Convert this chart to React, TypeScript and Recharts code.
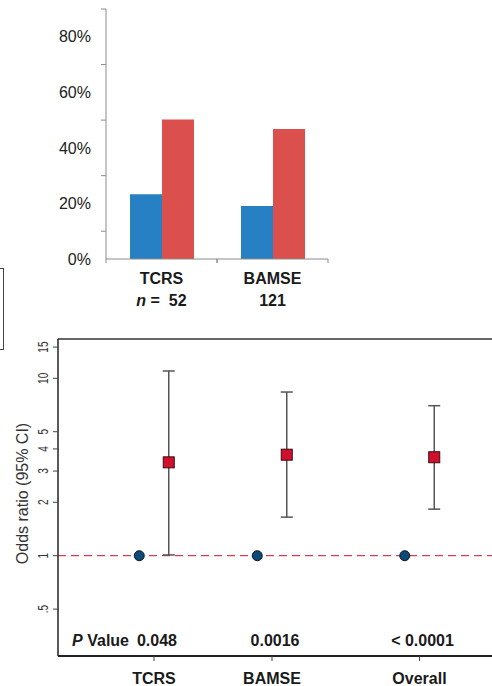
import { BarChart, Bar, XAxis, YAxis, ScatterChart, Scatter, ErrorBar, ReferenceLine, Label } from 'recharts';

// top panel: share of children per cohort
const cohorts = ['TCRS', 'BAMSE'];
const cohortN = ['52', '121'];
const bluePct = [23.3, 19.1];
const redPct = [50.2, 46.8];
const pctTicks = [0, 10, 20, 30, 40, 50, 60, 70, 80, 90];

// bottom panel: odds ratios with 95% CI
const groups = ['TCRS', 'BAMSE', 'Overall'];
const groupPos = [1, 2, 3.25];
const refOR = [1, 1, 1];
const oddsRatio = [3.36, 3.71, 3.59];
const ciLow = [1.01, 1.65, 1.83];
const ciHigh = [11.0, 8.37, 7.01];
const pValues = ['0.048', '0.0016', '< 0.0001'];
const orTicks = [0.5, 1, 2, 3, 4, 5, 10, 15];
const orTickLabels = ['.5', '1', '2', '3', '4', '5', '10', '15'];

const BAR_W = 340;
const BAR_LEFT = 106;
const BAR_RIGHT = 12;
const OR_MIN = 0.272;
const OR_MAX = 16.66;
const X_MIN = 0.1864;
const X_MAX = 3.8644;
const PAIR_OFFSET = 0.125;
const P_ROW = 0.335;

const barData = cohorts.map((c, i) => ({ name: c, n: cohortN[i], blue: bluePct[i], red: redPct[i] }));
const refData = groups.map((g, i) => ({ x: groupPos[i] - PAIR_OFFSET, y: refOR[i] }));
const orData = groups.map((g, i) => ({
  x: groupPos[i] + PAIR_OFFSET,
  y: oddsRatio[i],
  err: [oddsRatio[i] - ciLow[i], ciHigh[i] - oddsRatio[i]],
}));
const pData = groups.map((g, i) => ({ x: groupPos[i], y: P_ROW, label: pValues[i] }));

function PctTick(props: any) {
  const { x, y, payload } = props;
  const v = payload.value;
  if (v % 20 === 0) {
    return (
      <text x={x} y={y} dy={5.7} textAnchor="end" fontSize={16} fill="#222">
        {v}%
      </text>
    );
  }
  return <line x1={x + 10} x2={x + 15} y1={y} y2={y} stroke="#8c8c8c" />;
}

function CohortTick(props: any) {
  const { x, y, index } = props;
  const half = (BAR_W - BAR_LEFT - BAR_RIGHT) / cohorts.length / 2;
  const first = index === 0;
  return (
    <g>
      <line x1={x - half} x2={x - half} y1={y - 4} y2={y} stroke="#8c8c8c" />
      <line x1={x + half} x2={x + half} y1={y - 4} y2={y} stroke="#8c8c8c" />
      <text x={x} y={y + 20.5} textAnchor="middle" fontSize={16} fontWeight="bold" fill="#1a1a1a">
        {cohorts[index]}
      </text>
      <text x={x} y={y + 42.5} textAnchor="middle" fontSize={16} fontWeight="bold" fill="#1a1a1a" style={{ whiteSpace: 'pre' }}>
        {first && <tspan fontStyle="italic">n</tspan>}
        {first ? ' =  ' : ''}
        {cohortN[index]}
      </text>
    </g>
  );
}

function OrTick(props: any) {
  const { x, y, payload } = props;
  const i = orTicks.indexOf(payload.value);
  // labels in the source are squeezed along their length
  return (
    <text
      transform={`translate(${x - 5},${y}) rotate(-90) scale(0.72,1)`}
      textAnchor="middle"
      fontSize={14}
      fill="#333"
    >
      {orTickLabels[i]}
    </text>
  );
}

function GroupTick(props: any) {
  const { x, y, payload } = props;
  const i = groupPos.indexOf(payload.value);
  return (
    <text x={x} y={y + 22.5} textAnchor="middle" fontSize={16} fontWeight="bold" fill="#1a1a1a">
      {groups[i]}
    </text>
  );
}

function RefDot(props: any) {
  const { cx, cy } = props;
  return <circle cx={cx} cy={cy} r={5} fill="#0d4a78" stroke="#0a1522" strokeWidth={1} />;
}

function OrSquare(props: any) {
  const { cx, cy } = props;
  return <rect x={cx - 5.5} y={cy - 5.5} width={11} height={11} fill="#d0102c" stroke="#3a0c10" strokeWidth={1} />;
}

function PText(props: any) {
  const { cx, cy, payload, index } = props;
  return (
    <g>
      {index === 0 && (
        <text x={cx - 25} y={cy} dy={5.7} textAnchor="end" fontSize={16} fontWeight="bold" fill="#1a1a1a">
          <tspan fontStyle="italic">P</tspan> Value
        </text>
      )}
      <text x={cx + 3} y={cy} dy={5.7} textAnchor="middle" fontSize={16} fontWeight="bold" fill="#1a1a1a">
        {payload.label}
      </text>
    </g>
  );
}

function OrAxisTitle(props: any) {
  const { viewBox } = props;
  const cy = viewBox.y + viewBox.height / 2 - 4;
  return (
    <text transform={`translate(28,${cy}) rotate(-90)`} textAnchor="middle" fontSize={16} fill="#333">
      Odds ratio (95% CI)
    </text>
  );
}

export default function App() {
  return (
    <div
      style={{
        position: 'absolute',
        left: 0,
        top: 0,
        width: 492,
        height: 686,
        background: '#fff',
        fontFamily: '"Liberation Sans", Arial, sans-serif',
      }}
    >
      <div style={{ position: 'absolute', left: 0, top: 0 }}>
        <BarChart
          width={BAR_W}
          height={320}
          data={barData}
          margin={{ top: 9, right: BAR_RIGHT, bottom: 5, left: 0 }}
          barCategoryGap={24}
          barGap={0}
        >
          <XAxis
            dataKey="name"
            height={56}
            axisLine={{ stroke: '#8c8c8c' }}
            tickLine={false}
            tickSize={4}
            tickMargin={0}
            tick={<CohortTick />}
            interval={0}
          />
          <YAxis
            type="number"
            domain={[0, 90]}
            ticks={pctTicks}
            interval={0}
            width={BAR_LEFT}
            axisLine={{ stroke: '#8c8c8c' }}
            tickLine={false}
            tickSize={5}
            tickMargin={10}
            tick={<PctTick />}
          />
          <Bar dataKey="blue" fill="#2880c4" isAnimationActive={false} />
          <Bar dataKey="red" fill="#db504c" isAnimationActive={false} />
        </BarChart>
      </div>

      <div
        style={{
          position: 'absolute',
          left: 0,
          top: 268,
          width: 3,
          height: 80,
          borderTop: '1.5px solid #444',
          borderRight: '1.5px solid #444',
          borderBottom: '1.5px solid #444',
        }}
      />

      <div style={{ position: 'absolute', left: 0, top: 330 }}>
        <ScatterChart width={492} height={356} margin={{ top: 9, right: 0, bottom: 0, left: 0 }}>
          <XAxis
            type="number"
            dataKey="x"
            domain={[X_MIN, X_MAX]}
            allowDataOverflow
            ticks={groupPos}
            interval={0}
            height={30}
            axisLine={{ stroke: '#222', strokeWidth: 2 }}
            tickLine={{ stroke: '#444' }}
            tickSize={5}
            tickMargin={0}
            tick={<GroupTick />}
          />
          <YAxis
            type="number"
            dataKey="y"
            scale="log"
            domain={[OR_MIN, OR_MAX]}
            allowDataOverflow
            ticks={orTicks}
            interval={0}
            width={58}
            axisLine={{ stroke: '#222', strokeWidth: 1.5 }}
            tickLine={{ stroke: '#444' }}
            tickSize={5}
            tickMargin={0}
            tick={<OrTick />}
          >
            <Label content={<OrAxisTitle />} />
          </YAxis>
          <ReferenceLine y={OR_MAX} stroke="#333" strokeWidth={1.5} />
          <ReferenceLine y={1} stroke="#c8102e" strokeDasharray="8 5" />
          <Scatter data={refData} shape={<RefDot />} isAnimationActive={false} />
          <Scatter data={orData} shape={<OrSquare />} isAnimationActive={false} />
          <Scatter data={orData} shape={() => <g />} isAnimationActive={false}>
            <ErrorBar dataKey="err" direction="y" width={6} stroke="#555" strokeWidth={1.5} />
          </Scatter>
          <Scatter data={pData} shape={<PText />} isAnimationActive={false} />
        </ScatterChart>
      </div>
    </div>
  );
}
